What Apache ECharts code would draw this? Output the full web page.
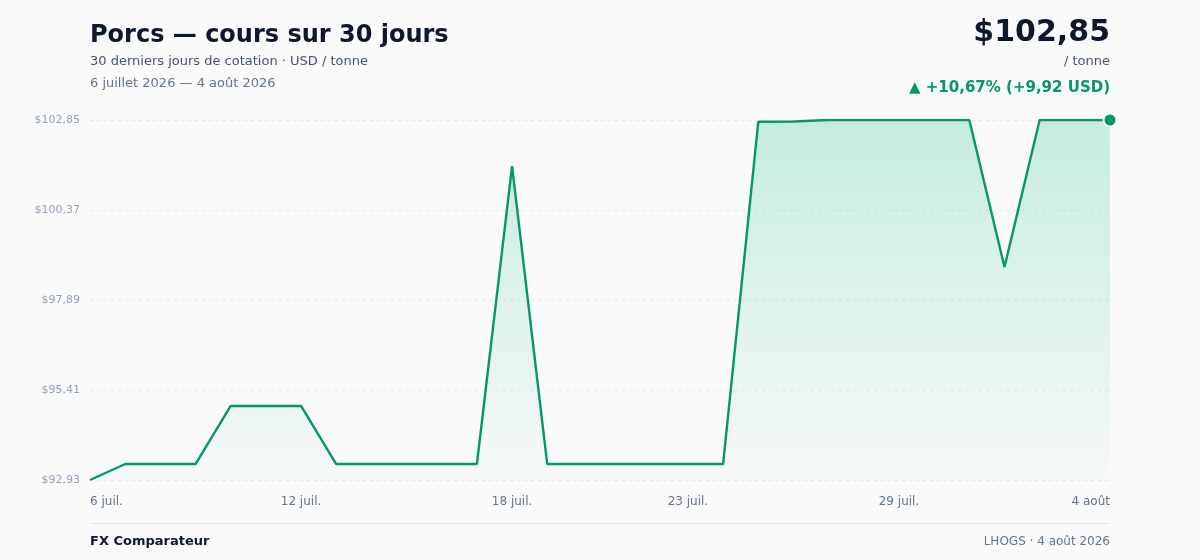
<!DOCTYPE html>
<html>
<head>
<meta charset="utf-8">
<script src="https://cdn.jsdelivr.net/npm/echarts@6/dist/echarts.min.js"></script>
<style>
  html, body { margin: 0; padding: 0; background: #fafafa; }
  #chart { width: 1200px; height: 560px; }
</style>
</head>
<body>
<div id="chart"></div>
<script>
// 30 jours de cotation, 6 juillet -> 4 août 2026
const days = [
  '6 juil.', '7 juil.', '8 juil.', '9 juil.', '10 juil.', '11 juil.', '12 juil.',
  '13 juil.', '14 juil.', '15 juil.', '16 juil.', '17 juil.', '18 juil.', '19 juil.',
  '20 juil.', '21 juil.', '22 juil.', '23 juil.', '24 juil.', '25 juil.', '26 juil.',
  '27 juil.', '28 juil.', '29 juil.', '30 juil.', '31 juil.', '1 août', '2 août',
  '3 août', '4 août'
];
const prices = [
  92.93, 93.37, 93.37, 93.37, 94.97, 94.97, 94.97, 93.37, 93.37, 93.37,
  93.37, 93.37, 101.58, 93.37, 93.37, 93.37, 93.37, 93.37, 93.37, 102.80,
  102.81, 102.85, 102.85, 102.85, 102.85, 102.85, 98.80, 102.85, 102.85, 102.85
];
const labelDays = [0, 6, 12, 17, 23, 29];
const yTicks = [92.93, 95.41, 97.89, 100.37, 102.85];

const fr = v => v.toFixed(2).replace('.', ',');
const green = '#059669';
const font = 'DejaVu Sans';

const last = prices.length - 1;
const first = prices[0];
const change = prices[last] - first;
const pct = change / first * 100;

let chart = echarts.init(document.getElementById('chart'));
chart.setOption({
  backgroundColor: '#fafafa',
  textStyle: { fontFamily: font },
  animation: false,
  title: [
    {
      text: 'Porcs — cours sur 30 jours',
      left: 90, top: 24, padding: 0,
      textStyle: { fontSize: 24, fontWeight: 'bold', color: '#0f172a', fontFamily: font }
    },
    {
      text: '30 derniers jours de cotation · USD / tonne',
      left: 90, top: 55, padding: 0,
      textStyle: { fontSize: 13, fontWeight: 'normal', color: '#475569', fontFamily: font }
    },
    {
      text: '6 juillet 2026 — 4 août 2026',
      left: 90, top: 77, padding: 0,
      textStyle: { fontSize: 13, fontWeight: 'normal', color: '#64748b', fontFamily: font }
    },
    {
      text: '$' + fr(prices[last]),
      right: 90, top: 18, padding: 0,
      textStyle: { fontSize: 30, fontWeight: 'bold', color: '#0f172a', fontFamily: font }
    },
    {
      text: '/ tonne',
      right: 90, top: 55, padding: 0,
      textStyle: { fontSize: 13, fontWeight: 'normal', color: '#475569', fontFamily: font }
    },
    {
      text: '▲ +' + fr(pct) + '% (+' + fr(change) + ' USD)',
      right: 90, top: 81, padding: 0,
      textStyle: { fontSize: 15, fontWeight: 'bold', color: green, fontFamily: font }
    },
    {
      text: 'FX Comparateur',
      left: 90, top: 535, padding: 0,
      textStyle: { fontSize: 13, fontWeight: 'bold', color: '#0f172a', fontFamily: font }
    },
    {
      text: 'LHOGS · 4 août 2026',
      right: 90, top: 536, padding: 0,
      textStyle: { fontSize: 12, fontWeight: 'normal', color: '#64748b', fontFamily: font }
    }
  ],
  graphic: [
    {
      type: 'line',
      shape: { x1: 90, y1: 523.5, x2: 1110, y2: 523.5 },
      style: { stroke: '#e5e7eb', lineWidth: 1 }
    }
  ],
  grid: { left: 90, right: 90, top: 120, bottom: 80 },
  xAxis: {
    type: 'category',
    boundaryGap: false,
    data: days,
    axisLine: { show: false },
    axisTick: { show: false },
    axisLabel: {
      interval: (i) => labelDays.includes(i),
      color: '#64748b',
      fontSize: 12,
      fontFamily: font,
      margin: 16,
      alignMinLabel: 'left',
      alignMaxLabel: 'right'
    }
  },
  yAxis: {
    type: 'value',
    min: yTicks[0],
    max: yTicks[yTicks.length - 1],
    interval: yTicks[1] - yTicks[0],
    axisLine: { show: false },
    axisTick: { show: false },
    axisLabel: {
      color: '#94a3b8',
      fontSize: 11,
      fontFamily: font,
      margin: 10,
      formatter: v => '$' + fr(v)
    },
    splitLine: {
      lineStyle: { color: '#e5e7eb', type: [3, 4], width: 1 }
    }
  },
  series: [
    {
      type: 'line',
      data: prices,
      showSymbol: false,
      lineStyle: { color: green, width: 2.4 },
      itemStyle: { color: green },
      areaStyle: {
        color: new echarts.graphic.LinearGradient(0, 0, 0, 1, [
          { offset: 0, color: 'rgba(16,185,129,0.32)' },
          { offset: 1, color: 'rgba(16,185,129,0.02)' }
        ])
      }
    },
    {
      type: 'scatter',
      data: [[last, prices[last]]],
      symbolSize: 13,
      itemStyle: { color: green, opacity: 1, borderColor: '#ffffff', borderWidth: 2 },
      z: 5
    }
  ]
});
</script>
</body>
</html>
